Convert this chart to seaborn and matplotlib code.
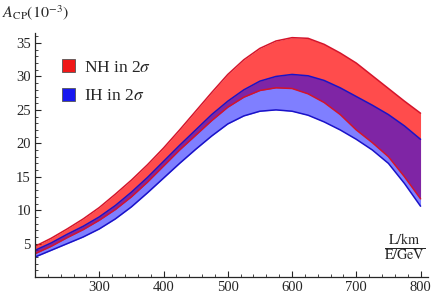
import matplotlib
matplotlib.use("Agg")
import matplotlib.pyplot as plt
from matplotlib.patches import Patch
from matplotlib.ticker import MultipleLocator
import seaborn as sns

# L/E values (km/GeV)
le = [200, 225, 250, 275, 300, 325, 350, 375, 400, 425, 450, 475, 500,
      525, 550, 575, 600, 625, 650, 675, 700, 725, 750, 775, 800]
# A_CP band edges (10^-3)
nh_upper = [4.6, 5.8, 7.2, 8.7, 10.4, 12.4, 14.5, 16.8, 19.3, 22.0, 24.8, 27.6, 30.3,
            32.5, 34.2, 35.3, 35.8, 35.7, 34.8, 33.5, 32.0, 30.1, 28.2, 26.3, 24.5]
nh_lower = [3.5, 4.6, 5.9, 7.1, 8.5, 10.1, 12.0, 14.2, 16.6, 19.0, 21.2, 23.4, 25.4,
            26.9, 27.9, 28.3, 28.2, 27.4, 26.1, 24.3, 22.0, 20.1, 18.0, 15.0, 11.7]
ih_upper = [4.0, 5.1, 6.4, 7.6, 9.0, 10.7, 12.7, 14.9, 17.3, 19.7, 22.0, 24.3, 26.3,
            28.0, 29.3, 30.0, 30.3, 30.1, 29.4, 28.3, 27.0, 25.7, 24.3, 22.6, 20.6]
ih_lower = [3.0, 4.0, 5.0, 6.0, 7.2, 8.7, 10.5, 12.6, 14.8, 17.0, 19.1, 21.1, 22.9,
            24.1, 24.8, 25.0, 24.8, 24.2, 23.2, 22.0, 20.6, 19.0, 17.0, 14.0, 10.6]
legend_labels = ["NH in 2$\\sigma$", "IH in 2$\\sigma$"]
x_ticks = [300, 400, 500, 600, 700, 800]
y_ticks = [5, 10, 15, 20, 25, 30, 35]

sns.set_style("ticks")
plt.rcParams["font.family"] = ["Liberation Serif", "DejaVu Serif"]
plt.rcParams["mathtext.fontset"] = "stix"

fig = plt.figure(figsize=(4.35, 2.97), dpi=100)
ax = fig.add_axes([0.0805, 0.067, 0.904, 0.822])

ax.fill_between(le, nh_lower, nh_upper, color="#ff0000", alpha=0.7, lw=0)
ax.fill_between(le, ih_lower, ih_upper, color="#0000ff", alpha=0.5, lw=0)
for ys, c in [(nh_upper, "#d4142a"), (nh_lower, "#d4142a"),
              (ih_upper, "#1a12c8"), (ih_lower, "#1a12c8")]:
    sns.lineplot(x=le, y=ys, color=c, lw=1.1, ax=ax, legend=False)

ax.set_xlim(200, 812)
ax.set_ylim(0, 36.5)
ax.set_xticks(x_ticks)
ax.set_yticks(y_ticks)
ax.xaxis.set_minor_locator(MultipleLocator(20))
ax.yaxis.set_minor_locator(MultipleLocator(1))
ax.tick_params(which="major", direction="in", length=4, width=0.8, labelsize=10.5, pad=3)
ax.tick_params(which="minor", direction="in", length=2.2, width=0.6)
for s in ["top", "right"]:
    ax.spines[s].set_visible(False)
for s in ["left", "bottom"]:
    ax.spines[s].set_linewidth(0.9)
ax.set_xlabel("")
ax.set_ylabel("")

handles = [Patch(facecolor="#f01818", edgecolor="#555555", lw=0.6),
           Patch(facecolor="#1818f0", edgecolor="#555555", lw=0.6)]
ax.legend(handles, legend_labels, loc="upper left", bbox_to_anchor=(0.05, 0.92),
          frameon=False, fontsize=12.5, handlelength=0.75, handleheight=0.75,
          handletextpad=0.55, labelspacing=0.7, borderaxespad=0)

fig.text(0.004, 0.958, r"$A_{\rm CP}(10^{-3})$", fontsize=11.5, va="center", ha="left")
fig.text(0.93, 0.165, r"$\frac{\rm L/km}{\rm E/GeV}$", fontsize=14.5, va="center", ha="center")

fig.savefig("out.png", dpi=100)
